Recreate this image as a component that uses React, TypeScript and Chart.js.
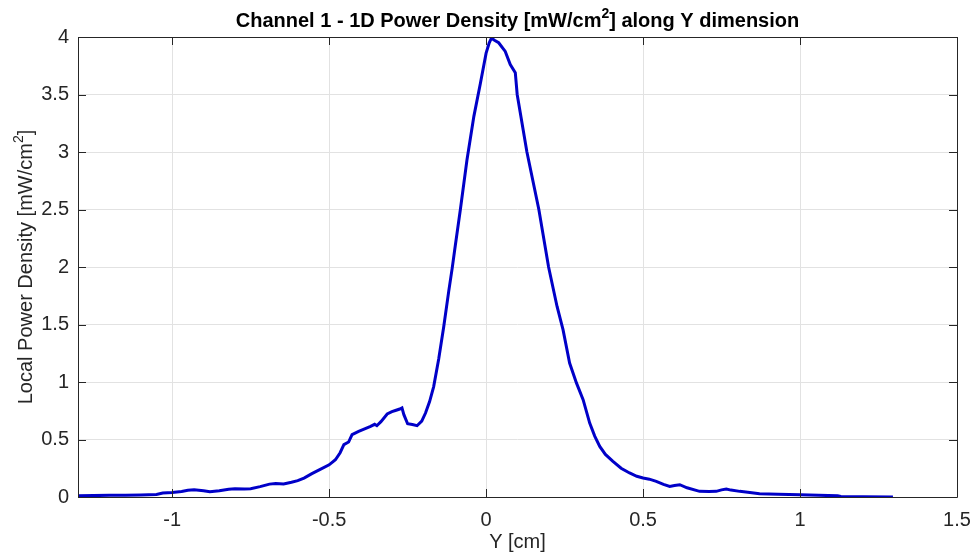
import React, { useEffect, useRef } from "react";
import { Chart, registerables } from "chart.js";

Chart.register(...registerables);

const positionCm: number[] = [
  -1.3, -1.25, -1.2, -1.15, -1.1, -1.05, -1.03, -1.0, -0.97, -0.95, -0.93, -0.9, -0.88, -0.85, -0.82, -0.8,
  -0.77, -0.75, -0.72, -0.69, -0.67, -0.645, -0.62, -0.6, -0.58, -0.555, -0.53, -0.5, -0.48, -0.465, -0.453,
  -0.438, -0.427, -0.406, -0.385, -0.368, -0.355, -0.348, -0.335, -0.315, -0.3, -0.289, -0.275, -0.268, -0.262,
  -0.25, -0.235, -0.22, -0.205, -0.193, -0.18, -0.167, -0.151, -0.135, -0.119, -0.108, -0.1, -0.082, -0.061, -0.039,
  -0.018, 0.0, 0.01, 0.017, 0.028, 0.04, 0.061, 0.077, 0.093, 0.099, 0.13, 0.168, 0.199, 0.226, 0.245,
  0.266, 0.288, 0.309, 0.33, 0.346, 0.362, 0.38, 0.404, 0.43, 0.457, 0.48, 0.5, 0.52, 0.542, 0.565, 0.585,
  0.6, 0.617, 0.64, 0.68, 0.71, 0.733, 0.75, 0.765, 0.78, 0.808, 0.84, 0.871, 0.93, 1.0, 1.06, 1.12, 1.13,
  1.2, 1.296,
];

const powerDensity: number[] = [
  0.01, 0.012, 0.015, 0.015, 0.018, 0.022, 0.035, 0.04, 0.048, 0.058, 0.063, 0.055, 0.046, 0.055, 0.068, 0.072,
  0.07, 0.072, 0.09, 0.112, 0.118, 0.114, 0.128, 0.142, 0.165, 0.203, 0.238, 0.28, 0.324, 0.385, 0.455,
  0.478, 0.542, 0.571, 0.595, 0.614, 0.632, 0.62, 0.655, 0.722, 0.742, 0.752, 0.765, 0.775, 0.716,
  0.637, 0.63, 0.62, 0.66, 0.73, 0.83, 0.96, 1.2, 1.48, 1.79, 1.99, 2.15, 2.5, 2.93, 3.31,
  3.6, 3.86, 3.95, 3.99, 3.97, 3.95, 3.875, 3.76, 3.69, 3.5, 3.0, 2.5, 2.0, 1.657, 1.455,
  1.165, 0.99, 0.846, 0.643, 0.53, 0.44, 0.37, 0.31, 0.25, 0.209, 0.18, 0.165, 0.155, 0.136, 0.11, 0.092,
  0.1, 0.107, 0.08, 0.049, 0.048, 0.049, 0.062, 0.07, 0.06, 0.049, 0.04, 0.029, 0.024, 0.02, 0.015, 0.01, 0.004,
  0.003, 0.001,
];

const xTickValues: number[] = [-1, -0.5, 0, 0.5, 1, 1.5];
const xTickLabels: string[] = ["-1", "-0.5", "0", "0.5", "1", "1.5"];
const yTickValues: number[] = [0, 0.5, 1, 1.5, 2, 2.5, 3, 3.5, 4];
const yTickLabels: string[] = ["0", "0.5", "1", "1.5", "2", "2.5", "3", "3.5", "4"];

const FONT = "'Liberation Sans', Arial, Helvetica, sans-serif";
const AXIS_COLOR = "#262626";
const FS = 20;

function drawWithSup(
  ctx: CanvasRenderingContext2D,
  parts: [string, string, string],
  cx: number,
  y: number,
  size: number,
  weight: string
) {
  const main = `${weight} ${size}px ${FONT}`;
  const sup = `${weight} ${Math.round(size * 0.7)}px ${FONT}`;
  ctx.font = main;
  const w1 = ctx.measureText(parts[0]).width;
  const w3 = ctx.measureText(parts[2]).width;
  ctx.font = sup;
  const w2 = ctx.measureText(parts[1]).width;
  const total = w1 + w2 + w3;
  let x = cx - total / 2;
  ctx.textAlign = "left";
  ctx.textBaseline = "alphabetic";
  ctx.font = main;
  ctx.fillText(parts[0], x, y);
  x += w1;
  ctx.font = sup;
  ctx.fillText(parts[1], x, y - size * 0.45);
  x += w2;
  ctx.font = main;
  ctx.fillText(parts[2], x, y);
}

const decorPlugin = {
  id: "decor",
  afterDraw(chart: any) {
    const ctx: CanvasRenderingContext2D = chart.ctx;
    const { left, right, top, bottom } = chart.chartArea;
    const xs = chart.scales.x;
    const ys = chart.scales.y;
    ctx.save();
    ctx.strokeStyle = AXIS_COLOR;
    ctx.lineWidth = 1;
    ctx.beginPath();
    ctx.rect(Math.round(left) + 0.5, Math.round(top) + 0.5, Math.round(right - left), Math.round(bottom - top));
    ctx.stroke();
    const tl = 8;
    ctx.beginPath();
    for (const v of xTickValues) {
      const px = Math.round(xs.getPixelForValue(v)) + 0.5;
      ctx.moveTo(px, bottom);
      ctx.lineTo(px, bottom - tl);
      ctx.moveTo(px, top);
      ctx.lineTo(px, top + tl);
    }
    for (const v of yTickValues) {
      const py = Math.round(ys.getPixelForValue(v)) + 0.5;
      ctx.moveTo(left, py);
      ctx.lineTo(left + tl, py);
      ctx.moveTo(right, py);
      ctx.lineTo(right - tl, py);
    }
    ctx.stroke();

    ctx.fillStyle = "#000000";
    drawWithSup(ctx, ["Channel 1 - 1D Power Density [mW/cm", "2", "] along Y dimension"], (left + right) / 2, 27, FS, "bold");

    ctx.fillStyle = AXIS_COLOR;
    ctx.font = `${FS}px ${FONT}`;
    ctx.textAlign = "center";
    ctx.textBaseline = "alphabetic";
    ctx.fillText("Y [cm]", (left + right) / 2, 548);

    ctx.translate(32, (top + bottom) / 2);
    ctx.rotate(-Math.PI / 2);
    drawWithSup(ctx, ["Local Power Density [mW/cm", "2", "]"], 0, 0, FS, "");
    ctx.restore();
  },
};

export default function App() {
  const ref = useRef<HTMLCanvasElement | null>(null);
  useEffect(() => {
    if (!ref.current) return;
    const data = positionCm.map((x, i) => ({ x, y: powerDensity[i] }));
    const chart = new Chart(ref.current, {
      type: "scatter",
      data: {
        datasets: [
          {
            data,
            showLine: true,
            borderColor: "rgb(0,0,200)",
            backgroundColor: "rgb(0,0,200)",
            borderWidth: 3,
            pointRadius: 0,
            tension: 0,
          },
        ],
      },
      plugins: [decorPlugin],
      options: {
        responsive: false,
        animation: false,
        layout: { padding: { left: 0, top: 37, right: 15, bottom: 0 } },
        plugins: { legend: { display: false }, tooltip: { enabled: false }, title: { display: false } },
        scales: {
          x: {
            type: "linear",
            min: -1.3,
            max: 1.5,
            afterBuildTicks: (scale: any) => {
              scale.ticks = xTickValues.map((v) => ({ value: v }));
            },
            afterFit: (scale: any) => {
              scale.height = 57;
              scale.paddingLeft = 0;
              scale.paddingRight = 0;
            },
            ticks: {
              autoSkip: false,
              maxRotation: 0,
              padding: 11,
              color: AXIS_COLOR,
              font: { family: FONT, size: FS },
              callback: (v: any) => {
                const i = xTickValues.indexOf(Number(v));
                return i >= 0 ? xTickLabels[i] : "";
              },
            },
            grid: { color: "#e2e2e2", drawTicks: false, lineWidth: 1 },
            border: { display: false },
          },
          y: {
            type: "linear",
            min: 0,
            max: 4,
            afterBuildTicks: (scale: any) => {
              scale.ticks = yTickValues.map((v) => ({ value: v }));
            },
            afterFit: (scale: any) => {
              scale.width = 78;
              scale.paddingTop = 0;
              scale.paddingBottom = 0;
            },
            ticks: {
              autoSkip: false,
              padding: 9,
              color: AXIS_COLOR,
              font: { family: FONT, size: FS },
              callback: (v: any) => {
                const i = yTickValues.indexOf(Number(v));
                return i >= 0 ? yTickLabels[i] : "";
              },
            },
            grid: { color: "#e2e2e2", drawTicks: false, lineWidth: 1 },
            border: { display: false },
          },
        },
      },
    } as any);
    return () => chart.destroy();
  }, []);
  return (
    <div style={{ position: "fixed", left: 0, top: 0, width: 972, height: 554, background: "#fff" }}>
      <canvas ref={ref} width={972} height={554} style={{ width: 972, height: 554, display: "block" }} />
    </div>
  );
}
